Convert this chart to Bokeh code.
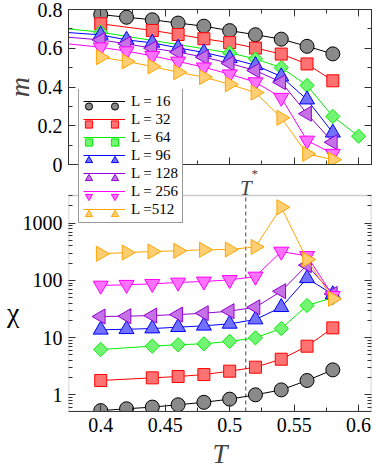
import math
from bokeh.plotting import figure
from bokeh.layouts import column
from bokeh.models import (Range1d, FixedTicker, LinearAxis, LogAxis, Legend, LegendItem,
                          Label, BoxAnnotation, CustomJSTickFormatter)
from bokeh.embed import file_html
from bokeh.resources import INLINE

# ---------------- data ----------------
legend_labels = ["L = 16", "L = 32", "L = 64", "L = 96", "L = 128", "L = 256", "L =512"]

T_full = [0.40, 0.42, 0.44, 0.46, 0.48, 0.50, 0.52, 0.54, 0.56, 0.58]
T_gap = [0.40, 0.44, 0.46, 0.48, 0.50, 0.52, 0.54, 0.56, 0.58]
T_ext = [0.36, 0.40, 0.42, 0.44, 0.46, 0.48, 0.50, 0.52, 0.54, 0.56, 0.58]
T_m64 = [0.36, 0.40, 0.50, 0.52, 0.54, 0.56, 0.58, 0.60]

# magnetisation m(T)
m_16 = [0.774, 0.760, 0.747, 0.730, 0.714, 0.691, 0.670, 0.647, 0.610, 0.571]
m_32 = [0.726, 0.692, 0.671, 0.649, 0.629, 0.601, 0.570, 0.519, 0.432]
m_64 = [0.710, 0.683, 0.576, 0.545, 0.500, 0.408, 0.248, 0.146]
m_96 = [0.688, 0.669, 0.643, 0.628, 0.602, 0.578, 0.548, 0.512, 0.454, 0.335, 0.164]
m_128 = [0.665, 0.643, 0.623, 0.600, 0.580, 0.554, 0.522, 0.485, 0.425, 0.262, 0.115]
m_256 = [0.633, 0.605, 0.585, 0.561, 0.532, 0.502, 0.466, 0.425, 0.345, 0.124, 0.056]
m_512 = [0.554, 0.532, 0.506, 0.476, 0.451, 0.414, 0.371, 0.241, 0.055, 0.025]

# susceptibility chi(T)
chi_16 = [0.53, 0.57, 0.61, 0.67, 0.74, 0.84, 1.0, 1.22, 1.78, 2.73]
chi_32 = [1.78, 1.98, 2.09, 2.26, 2.59, 3.04, 4.19, 7.08, 14.8]
chi_64 = [6.2, 7.1, 7.5, 7.8, 8.6, 9.9, 14.4, 36.4, 50.0]
chi_96 = [13.7, 14.0, 14.4, 15.2, 16.1, 17.4, 20.7, 34.0, 109.0, 57.0]
chi_128 = [23.4, 23.7, 24.3, 25.3, 26.7, 29.0, 34.0, 64.7, 185.0, 58.0]
chi_256 = [81.5, 84.0, 87.0, 92.0, 96.0, 102.0, 117.0, 320.0, 268.0, 54.0]
chi_512 = [292.0, 307.0, 320.0, 329.0, 343.0, 347.0, 385.0, 1900.0, 232.0, 47.7]

T_star = 0.5125

x_ticks = [0.4, 0.45, 0.5, 0.55, 0.6]
x_minor = [0.425, 0.475, 0.525, 0.575]
x_tick_labels = ["0.4", "0.45", "0.5", "0.55", "0.6"]
m_ticks = [0, 0.2, 0.4, 0.6, 0.8]
m_minor = [0.1, 0.3, 0.5, 0.7]
m_tick_labels = ["0", "0.2", "0.4", "0.6", "0.8"]
chi_ticks = [1, 10, 100, 1000]
chi_minor = [0.6, 0.7, 0.8, 0.9, 2, 3, 4, 5, 6, 7, 8, 9, 20, 30, 40, 50, 60, 70, 80, 90,
             200, 300, 400, 500, 600, 700, 800, 900, 2000, 3000]
chi_tick_labels = ["1", "10", "100", "1000"]

# ---------------- styles / geometry ----------------
FONT = "Liberation Serif"
AX = "#333333"
X0, X1 = 0.375, 0.61
CHI_LO, CHI_HI = 0.511, 3050.0          # visible chi panel
DEC_PX = 216 / math.log10(CHI_HI / CHI_LO)   # px per decade (panel is 216 px tall)
EXT_PX = 106                             # frame extends above the chi panel (legend room)
CHI_TOP = CHI_HI * 10 ** (EXT_PX / DEC_PX)


def chi_at_px_above_top(px):
    """chi value that lies `px` pixels above the top of the chi panel (for text placement)."""
    return CHI_HI * 10 ** (px / DEC_PX)


def chi_at_px_below_top(px):
    return CHI_HI / 10 ** (px / DEC_PX)


def lighten(hexcol, f=0.45):
    r, g, b = int(hexcol[1:3], 16), int(hexcol[3:5], 16), int(hexcol[5:7], 16)
    r, g, b = [int(c + (255 - c) * f) for c in (r, g, b)]
    return "#%02x%02x%02x" % (r, g, b)

series = [
    dict(color="#000000", fill="#8a8a8a", marker="circle", angle=0.0, size=14,
         Tm=T_full, m=m_16, Tc=T_full, chi=chi_16),
    dict(color="#ff0000", fill=lighten("#ff0000"), marker="square", angle=0.0, size=12,
         Tm=T_gap, m=m_32, Tc=T_gap, chi=chi_32),
    dict(color="#00ee00", fill=lighten("#00ee00"), marker="square", angle=math.pi / 4, size=10,
         Tm=T_m64, m=m_64, Tc=T_gap, chi=chi_64),
    dict(color="#0000ff", fill=lighten("#0000ff"), marker="triangle", angle=0.0, size=15,
         Tm=T_ext, m=m_96, Tc=T_full, chi=chi_96),
    dict(color="#9400d3", fill=lighten("#9400d3"), marker="triangle", angle=math.pi / 2, size=15,
         Tm=T_ext, m=m_128, Tc=T_full, chi=chi_128),
    dict(color="#ff00ff", fill=lighten("#ff00ff"), marker="inverted_triangle", angle=0.0, size=15,
         Tm=T_ext, m=m_256, Tc=T_full, chi=chi_256),
    dict(color="#ffa500", fill=lighten("#ffa500"), marker="triangle", angle=-math.pi / 2, size=15,
         Tm=T_full, m=m_512, Tc=T_full, chi=chi_512),
]


def style_axis(ax, ticks, minor, labels=None, line=True):
    ax.ticker = FixedTicker(ticks=ticks, minor_ticks=minor)
    ax.major_tick_in = 7
    ax.major_tick_out = 0
    ax.minor_tick_in = 4
    ax.minor_tick_out = 0
    ax.axis_line_color = AX if line else None
    ax.major_tick_line_color = AX
    ax.minor_tick_line_color = AX
    if labels is not None:
        ax.major_label_overrides = dict(zip(ticks, labels))
        ax.major_label_text_font = FONT
        ax.major_label_text_font_size = "20px"
        ax.major_label_text_color = "black"
        ax.major_label_standoff = 6
    else:
        ax.formatter = CustomJSTickFormatter(code="return ''")
        ax.major_label_text_font_size = "2px"
        ax.major_label_standoff = 0


x_range = Range1d(X0, X1)

# ---------------- top panel: m ----------------
top = figure(width=374, height=195, x_range=x_range, y_range=Range1d(0, 0.8),
             output_backend="svg", toolbar_location=None,
             min_border_left=62, min_border_right=3, min_border_top=9, min_border_bottom=31)
top.grid.visible = False
top.outline_line_color = AX
top.border_fill_color = "white"
t_bottom = top.below[0]
t_left = top.left[0]
style_axis(t_bottom, x_ticks, x_minor, None)
style_axis(t_left, m_ticks, m_minor, m_tick_labels)
t_above = LinearAxis()
style_axis(t_above, x_ticks, x_minor, None)
top.add_layout(t_above, "above")
t_right = LinearAxis()
style_axis(t_right, m_ticks, m_minor, None)
top.add_layout(t_right, "right")
t_left.axis_label = "m"
t_left.axis_label_text_font = FONT
t_left.axis_label_text_font_style = "italic"
t_left.axis_label_text_font_size = "28px"
t_left.axis_label_standoff = 0

# ---------------- bottom panel: chi (frame reaches up under the legend) ----------------
bot = figure(width=374, height=9 + EXT_PX + 216 + 62, x_range=x_range,
             y_range=Range1d(CHI_LO, CHI_TOP), y_axis_type="log",
             output_backend="svg", toolbar_location=None,
             min_border_left=62, min_border_right=3, min_border_top=9, min_border_bottom=62)
bot.grid.visible = False
bot.outline_line_color = None
bot.border_fill_alpha = 0
bot.background_fill_alpha = 0
b_bottom = bot.below[0]
b_left = bot.left[0]
style_axis(b_bottom, x_ticks, x_minor, x_tick_labels)
style_axis(b_left, chi_ticks, chi_minor, chi_tick_labels, line=False)
b_right = LogAxis()
style_axis(b_right, chi_ticks, chi_minor, None, line=False)
bot.add_layout(b_right, "right")
b_bottom.axis_label = "T"
b_bottom.axis_label_text_font = FONT
b_bottom.axis_label_text_font_style = "italic"
b_bottom.axis_label_text_font_size = "27px"
b_bottom.axis_label_standoff = 4

# chi title: a second left axis carrying one label near the panel's middle height
chi_title_axis = LogAxis(ticker=FixedTicker(ticks=[chi_at_px_below_top(117)]),
                         formatter=CustomJSTickFormatter(code="return 'χ'"))
chi_title_axis.axis_line_color = None
chi_title_axis.major_tick_line_color = None
chi_title_axis.minor_tick_line_color = None
chi_title_axis.major_tick_in = 0
chi_title_axis.major_tick_out = 0
chi_title_axis.major_label_text_font = FONT
chi_title_axis.major_label_text_font_size = "28px"
chi_title_axis.major_label_text_color = "black"
chi_title_axis.major_label_standoff = 0
bot.add_layout(chi_title_axis, "left")

# box of the chi panel
bot.add_layout(BoxAnnotation(left=X0, right=X1, bottom=CHI_LO, top=CHI_HI,
                             fill_color=None, line_color="#555555", line_width=1.6))

# dashed T* line, only inside the chi panel
bot.segment(x0=[T_star], y0=[CHI_LO], x1=[T_star], y1=[CHI_HI],
            line_color="#444444", line_dash="4 3", line_width=1)

line_rs, mark_rs = [], []
for s in series:
    top.line(s["Tm"], s["m"], line_color=s["color"], line_width=1)
    top.scatter(s["Tm"], s["m"], marker=s["marker"], angle=s["angle"], size=s["size"],
                fill_color=s["fill"], line_color=s["color"], line_width=1)
    lr = bot.line(s["Tc"], s["chi"], line_color=s["color"], line_width=1)
    mr = bot.scatter(s["Tc"], s["chi"], marker=s["marker"], angle=s["angle"], size=s["size"],
                     fill_color=s["fill"], line_color=s["color"], line_width=1)
    line_rs.append(lr)
    mark_rs.append(mr)

# T* label
bot.add_layout(Label(x=T_star, y=chi_at_px_above_top(8), text="T", text_font=FONT,
                     text_font_style="italic", text_font_size="21px", text_align="center",
                     text_baseline="alphabetic"))
bot.add_layout(Label(x=T_star, y=chi_at_px_above_top(22), text="*", x_offset=9, text_font=FONT,
                     text_font_size="13px", text_align="center", text_baseline="alphabetic"))

# legend: line with a marker at each end
common = dict(glyph_height=18, label_height=18, spacing=0, padding=4, margin=0,
              label_text_font=FONT, label_text_font_size="15px", label_text_color="black")
leg_main = Legend(items=[LegendItem(label=lab, renderers=[lr]) for lab, lr in zip(legend_labels, line_rs)],
                  location=(10, 188), glyph_width=42, label_standoff=6,
                  border_line_color=AX, border_line_width=1, background_fill_color="white",
                  background_fill_alpha=1.0, **common)
leg_a = Legend(items=[LegendItem(label="", renderers=[mr]) for mr in mark_rs],
               location=(10, 188), glyph_width=21, label_standoff=0, label_width=1,
               border_line_color=None, background_fill_alpha=0, **common)
leg_b = Legend(items=[LegendItem(label="", renderers=[mr]) for mr in mark_rs],
               location=(36, 188), glyph_width=21, label_standoff=0, label_width=1,
               border_line_color=None, background_fill_alpha=0, **common)
bot.add_layout(leg_main, "center")
bot.add_layout(leg_a, "center")
bot.add_layout(leg_b, "center")

# lower figure overlaps the gap and the lower part of the upper panel
bot.styles = {"margin-top": "-115px", "z-index": "1", "position": "relative"}
layout = column(top, bot)

open("out.html", "w").write(file_html(layout, INLINE))
